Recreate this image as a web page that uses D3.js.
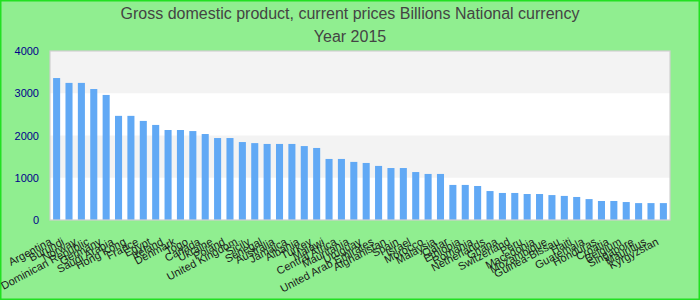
<!DOCTYPE html>
<html>
<head>
<meta charset="utf-8">
<script src="https://cdn.jsdelivr.net/npm/d3@7"></script>
<style>
  body{margin:0;background:#fff;}
  svg{display:block;font-family:"Liberation Sans",Arial,sans-serif;}
</style>
</head>
<body>
<svg class="chart"></svg>
<script>
//------------DATA-----------
var countries=["Argentina","Burundi","Norway","Dominican Republic","Germany","Saudi Arabia","Hong Kong","France","Egypt","Ireland",
  "Denmark","Togo","Canada","Ukraine","Poland","United Kingdom","Sicily","Senegal","Australia","Jamaica",
  "Albania","Turkey","Malawi","Central Africa","Mauritania","Uruguay","United Arab Emirates","Afghanistan","Spain","Israel",
  "Morocco","Malaysia","Qatar","Ethiopia","Romania","Netherlands","Ghana","Switzerland","Peru","Macedonia",
  "Mozambique","Guinea-Bissau","Haiti","Guatemala","Honduras","Croatia","Belgium","Singapore","Mauritius","Kyrgyzstan"]
var gdp=[3360,3245,3245,3100,2960,2465,2465,2345,2250,2130,
  2130,2105,2035,1940,1940,1845,1820,1800,1800,1800,
  1750,1705,1445,1445,1375,1350,1280,1230,1230,1135,
  1090,1090,830,830,805,685,640,640,615,615,
  590,570,545,495,450,450,425,400,400,400]
var yTicks=[0,1000,2000,3000,4000]
var titleLines=["Gross domestic product, current prices Billions National currency","Year 2015"]

//------------SIZES-----------
var svgWidth=700, svgHeight=300
var margin={"top":51,"right":30,"bottom":80,"left":50}
var chartWidth=svgWidth-margin.left-margin.right
var chartHeight=svgHeight-margin.top-margin.bottom

var chart=d3.select(".chart")
  .attr("width",svgWidth)
  .attr("height",svgHeight)

// background + outer border
chart.append("rect")
  .attr("x",0.75).attr("y",0.75)
  .attr("width",svgWidth-1.5).attr("height",svgHeight-1.5)
  .attr("fill","#90ee90")
  .attr("stroke","#22e022")
  .attr("stroke-width",1.5)

// title
chart.selectAll("text.title")
  .data(titleLines)
  .enter()
  .append("text")
  .attr("class","title")
  .attr("x",svgWidth/2)
  .attr("y",function(d,i){return 19+i*23})
  .attr("text-anchor","middle")
  .style("font-size","16px")
  .attr("fill","#444")
  .text(function(d){return d})

//--------SCALES------------
var xScale=d3.scaleBand()
  .domain(countries)
  .range([0,chartWidth])
  .paddingInner(0.43)
  .paddingOuter(0.25)

var yScale=d3.scaleLinear()
  .domain([0,d3.max(yTicks)])
  .range([chartHeight,0])

var plot=chart.append("g")
  .attr("transform","translate("+margin.left+","+margin.top+")")

// plot background with alternating bands
plot.append("rect")
  .attr("width",chartWidth).attr("height",chartHeight)
  .attr("fill","#fff")

var bandPairs=[]
yTicks.forEach(function(v,i){
  if(i%2==1 && i<yTicks.length-1) bandPairs.push([v,yTicks[i+1]])
})
plot.selectAll("rect.band")
  .data(bandPairs)
  .enter()
  .append("rect")
  .attr("class","band")
  .attr("x",0)
  .attr("width",chartWidth)
  .attr("y",function(d){return yScale(d[1])})
  .attr("height",function(d){return yScale(d[0])-yScale(d[1])})
  .attr("fill","#f3f3f3")

//--------BARS------------
plot.selectAll("rect.bar")
  .data(gdp)
  .enter()
  .append("rect")
  .attr("class","bar")
  .attr("x",function(d,i){return xScale(countries[i])})
  .attr("width",xScale.bandwidth())
  .attr("y",function(d){return yScale(d)})
  .attr("height",function(d){return chartHeight-yScale(d)})
  .attr("fill","#61a9f5")

// plot border
plot.append("rect")
  .attr("width",chartWidth).attr("height",chartHeight)
  .attr("fill","none")
  .attr("stroke","#d0d0d0")
  .attr("stroke-width",1.2)

//--------AXES------------
var yAxis=d3.axisLeft(yScale).tickValues(yTicks).tickFormat(d3.format("d")).tickSize(0).tickPadding(11)
var gy=plot.append("g").call(yAxis)
gy.select(".domain").remove()
gy.selectAll("text")
  .style("font-size","11px")
  .style("font-family","'Liberation Sans',Arial,sans-serif")
  .attr("fill","#00008b")

var xAxis=d3.axisBottom(xScale).tickSize(0)
var gx=plot.append("g")
  .attr("transform","translate(0,"+chartHeight+")")
  .call(xAxis)
gx.select(".domain").remove()
gx.selectAll("text")
  .attr("x",0).attr("y",0).attr("dy",0)
  .attr("text-anchor","end")
  .attr("transform","translate(-4,24) rotate(-28)")
  .style("font-size","11px")
  .style("font-family","'Liberation Sans',Arial,sans-serif")
  .attr("fill","#1a1a1a")
</script>
</body>
</html>
